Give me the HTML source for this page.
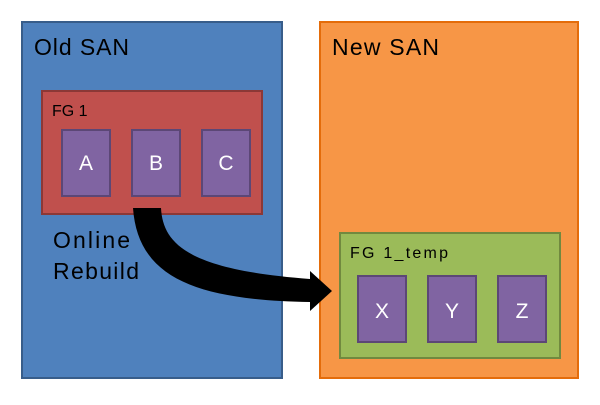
<!DOCTYPE html>
<html><head><style>
body{margin:0;width:600px;height:400px;background:#fff;overflow:hidden}
</style></head><body>
<svg width="600" height="400" xmlns="http://www.w3.org/2000/svg" font-family="Liberation Sans, sans-serif">
<rect x="22" y="22" width="260" height="356" fill="#4f81bd" stroke="#385d8a" stroke-width="2"/>
<rect x="320" y="22" width="258" height="356" fill="#f79646" stroke="#e46c0a" stroke-width="2"/>
<text x="34" y="55" font-size="23" fill="#000" textLength="95">Old SAN</text>
<text x="332" y="55" font-size="23" fill="#000" textLength="107">New SAN</text>
<rect x="42" y="91" width="220" height="123" fill="#c0504d" stroke="#8c3836" stroke-width="2"/>
<text x="52" y="116" font-size="16">FG 1</text>
<g fill="#8064a2" stroke="#5c4776" stroke-width="2">
<rect x="62" y="130" width="48" height="66"/><rect x="132" y="130" width="48" height="66"/><rect x="202" y="130" width="48" height="66"/>
</g>
<g fill="#fff" font-size="21" text-anchor="middle">
<text x="86" y="170">A</text><text x="156" y="170">B</text><text x="226" y="170">C</text>
</g>
<text x="53" y="248" font-size="23" textLength="77">Online</text>
<text x="53" y="279" font-size="23" textLength="86">Rebuild</text>
<rect x="340" y="233" width="220" height="125" fill="#9bbb59" stroke="#71893f" stroke-width="2"/>
<text x="350" y="258" font-size="16" textLength="98">FG 1_temp</text>
<g fill="#8064a2" stroke="#5c4776" stroke-width="2">
<rect x="358" y="276" width="48" height="66"/><rect x="428" y="276" width="48" height="66"/><rect x="498" y="276" width="48" height="66"/>
</g>
<g fill="#fff" font-size="21" text-anchor="middle">
<text x="382" y="318">X</text><text x="452" y="318">Y</text><text x="522" y="318">Z</text>
</g>
<path d="M133,208 L161,208 C163,245 190,270 310,279 L310,271 L332,291 L310,311 L310,302 C200,300 138,280 133,208 Z" fill="#000"/>
</svg>
</body></html>
